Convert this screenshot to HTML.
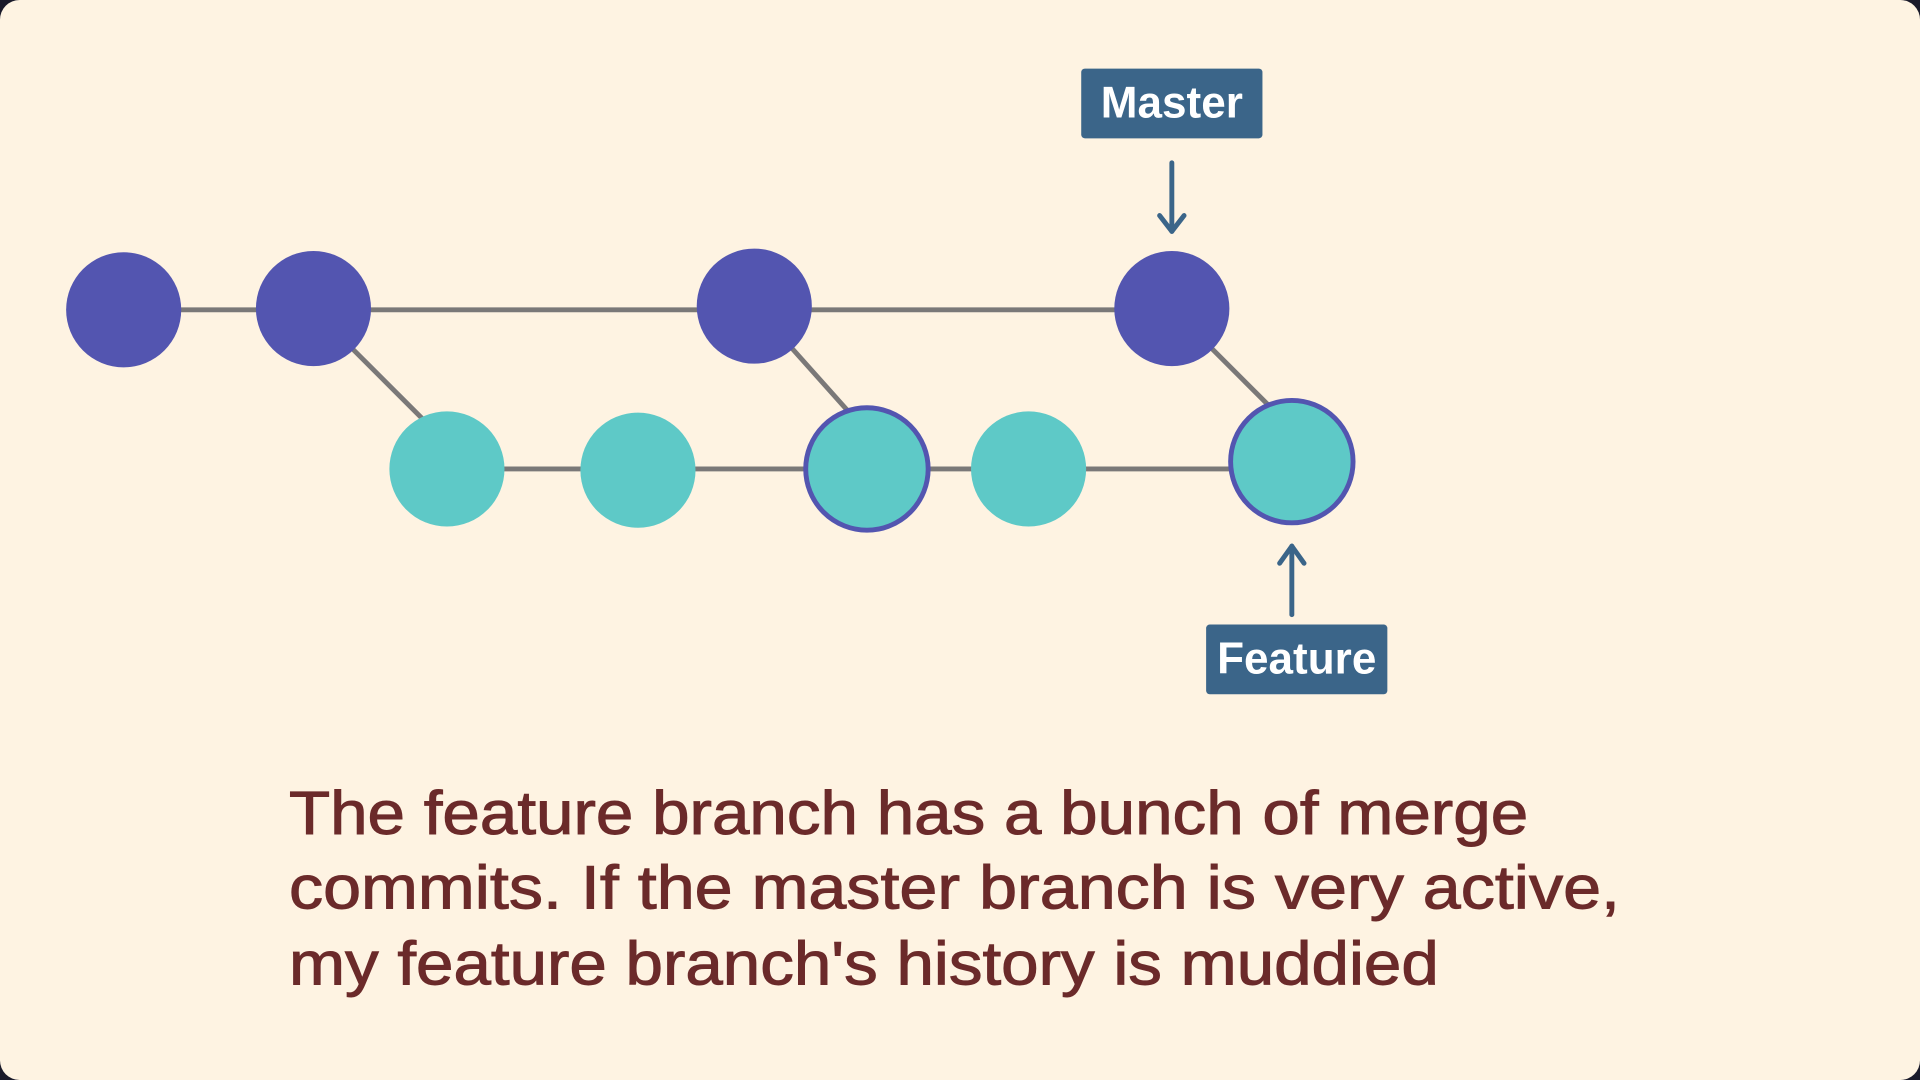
<!DOCTYPE html>
<html><head><style>
html,body{margin:0;padding:0;background:#1a1a2a;width:1920px;height:1080px;overflow:hidden}
svg{display:block}
</style></head><body>
<svg width="1920" height="1080" viewBox="0 0 1568 882" xmlns="http://www.w3.org/2000/svg">
<rect x="0" y="0" width="1568" height="882" rx="16" fill="#fef3e2"/>
<g stroke="#7a7878" stroke-width="4" fill="none">
<line x1="101" y1="253" x2="957" y2="253"/>
<line x1="365" y1="383" x2="1055" y2="383"/>
<line x1="256" y1="253" x2="370" y2="367"/>
<line x1="616" y1="250" x2="708" y2="353"/>
<line x1="957" y1="252" x2="1050" y2="345"/>
</g>
<g fill="#5355b0">
<circle cx="101" cy="253" r="47"/>
<circle cx="256" cy="252" r="47"/>
<circle cx="616" cy="250" r="47"/>
<circle cx="957" cy="252" r="47"/>
</g>
<g fill="#5ec9c7">
<circle cx="365" cy="383" r="47"/>
<circle cx="521" cy="384" r="47"/>
<circle cx="840" cy="383" r="47"/>
<circle cx="708" cy="383" r="50" stroke="#5355b0" stroke-width="4"/>
<circle cx="1055" cy="377" r="50" stroke="#5355b0" stroke-width="4"/>
</g>
<rect x="883" y="56" width="148" height="57" rx="3" fill="#3b6589"/>
<text x="957" y="96" text-anchor="middle" fill="#fff" font-family="Liberation Sans, sans-serif" font-weight="bold" font-size="36">Master</text>
<g stroke="#3b6589" stroke-width="4" fill="none" stroke-linecap="round" stroke-linejoin="round">
<line x1="957" y1="133" x2="957" y2="189"/>
<polyline points="947,176 957,189 967,176"/>
<line x1="1055" y1="502" x2="1055" y2="446"/>
<polyline points="1045,460 1055,446 1065,460"/>
</g>
<rect x="985" y="510" width="148" height="57" rx="3" fill="#3b6589"/>
<text x="1059" y="550" text-anchor="middle" fill="#fff" font-family="Liberation Sans, sans-serif" font-weight="bold" font-size="36">Feature</text>
<g fill="#6b2a2a" font-family="Liberation Sans, sans-serif" font-size="50" stroke="#6b2a2a" stroke-width="0.8">
<text x="236" y="681" textLength="1012" lengthAdjust="spacingAndGlyphs">The feature branch has a bunch of merge</text>
<text x="236" y="742" textLength="1087" lengthAdjust="spacingAndGlyphs">commits.  If the master branch is very active,</text>
<text x="236" y="804" textLength="939" lengthAdjust="spacingAndGlyphs">my feature branch's history is muddied</text>
</g>
</svg>
</body></html>
